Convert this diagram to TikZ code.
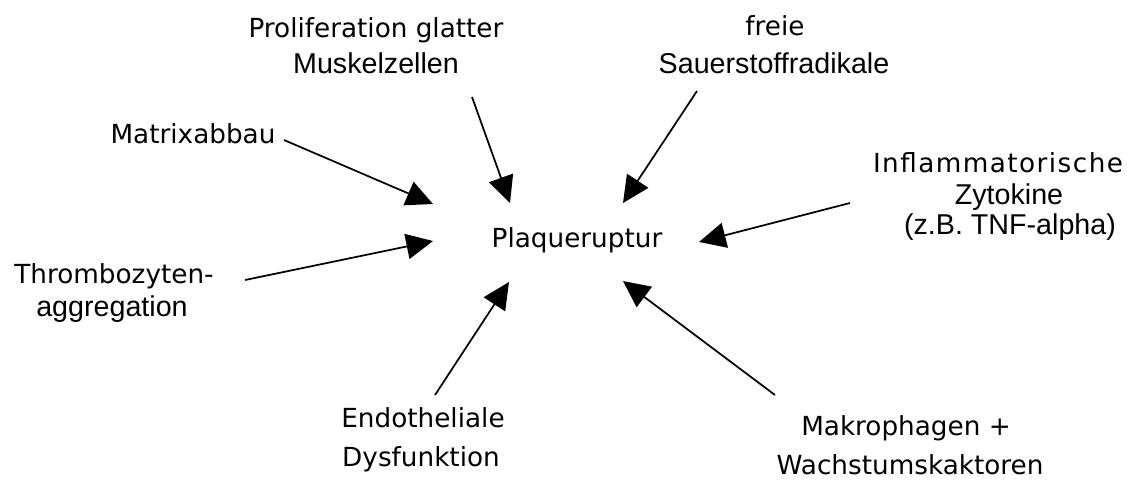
\documentclass[tikz,border=0pt]{standalone}
\usepackage{fontspec}
\setmainfont{Liberation Sans}
\newfontfamily\comicfont{DejaVu Sans}
\newfontfamily\comicwide[LetterSpace=5.5]{DejaVu Sans}
\usetikzlibrary{arrows.meta}
\tikzset{
  comictxt/.style={inner sep=0pt, anchor=base, font=\comicfont\fontsize{19.7pt}{23pt}\selectfont},
  comicwidetxt/.style={inner sep=0pt, anchor=base, font=\comicwide\fontsize{19.7pt}{23pt}\selectfont},
  arialtxt/.style={inner sep=0pt, anchor=base, font=\fontsize{21.5pt}{25pt}\selectfont},
  conn/.style={draw=black, line width=1.3pt, -{Triangle[length=20pt,width=19pt]}}
}
\begin{document}
\begin{tikzpicture}[x=0.75pt,y=-0.75pt]
\useasboundingbox (0,0) rectangle (1127,479);
% labels
\node[comictxt] (plaque) at (577,247) {Plaqueruptur};
\node[comictxt] (prolif) at (376,37) {Proliferation glatter};
\node[arialtxt] (muskel) at (376,73) {Muskelzellen};
\node[comictxt] (freie) at (775,35) {freie};
\node[arialtxt] (sauer) at (774,73) {Sauerstoffradikale};
\node[comictxt] (matrix) at (193,143) {Matrixabbau};
\node[comicwidetxt] (inflam) at (998,172) {Inflammatorische};
\node[arialtxt] (zyto) at (1009,204) {Zytokine};
\node[arialtxt] (tnf) at (1010,234) {(z.B. TNF-alpha)};
\node[comictxt] (thrombo) at (114,283) {Thrombozyten-};
\node[arialtxt] (aggr) at (112,316) {aggregation};
\node[comictxt] (endo) at (423,427) {Endotheliale};
\node[comictxt] (dysf) at (421,466) {Dysfunktion};
\node[comictxt] (makro) at (906,435) {Makrophagen +};
\node[comictxt] (wachs) at (910,474) {Wachstumskaktoren};
% connector ends
\coordinate (sMatrix) at (284,140);
\coordinate (tMatrix) at (433,204);
\coordinate (sProlif) at (472,97);
\coordinate (tProlif) at (510,203);
\coordinate (sFreie) at (697,91);
\coordinate (tFreie) at (623,203);
\coordinate (sInflam) at (850,203);
\coordinate (tInflam) at (699,242);
\coordinate (sThrombo) at (245,280);
\coordinate (tThrombo) at (433,241);
\coordinate (sEndo) at (435,395);
\coordinate (tEndo) at (509,282);
\coordinate (sMakro) at (775,395);
\coordinate (tMakro) at (623,281);
% connectors
\draw[conn] (sMatrix) -- (tMatrix);
\draw[conn] (sProlif) -- (tProlif);
\draw[conn] (sFreie) -- (tFreie);
\draw[conn] (sInflam) -- (tInflam);
\draw[conn] (sThrombo) -- (tThrombo);
\draw[conn] (sEndo) -- (tEndo);
\draw[conn] (sMakro) -- (tMakro);
\end{tikzpicture}
\end{document}
